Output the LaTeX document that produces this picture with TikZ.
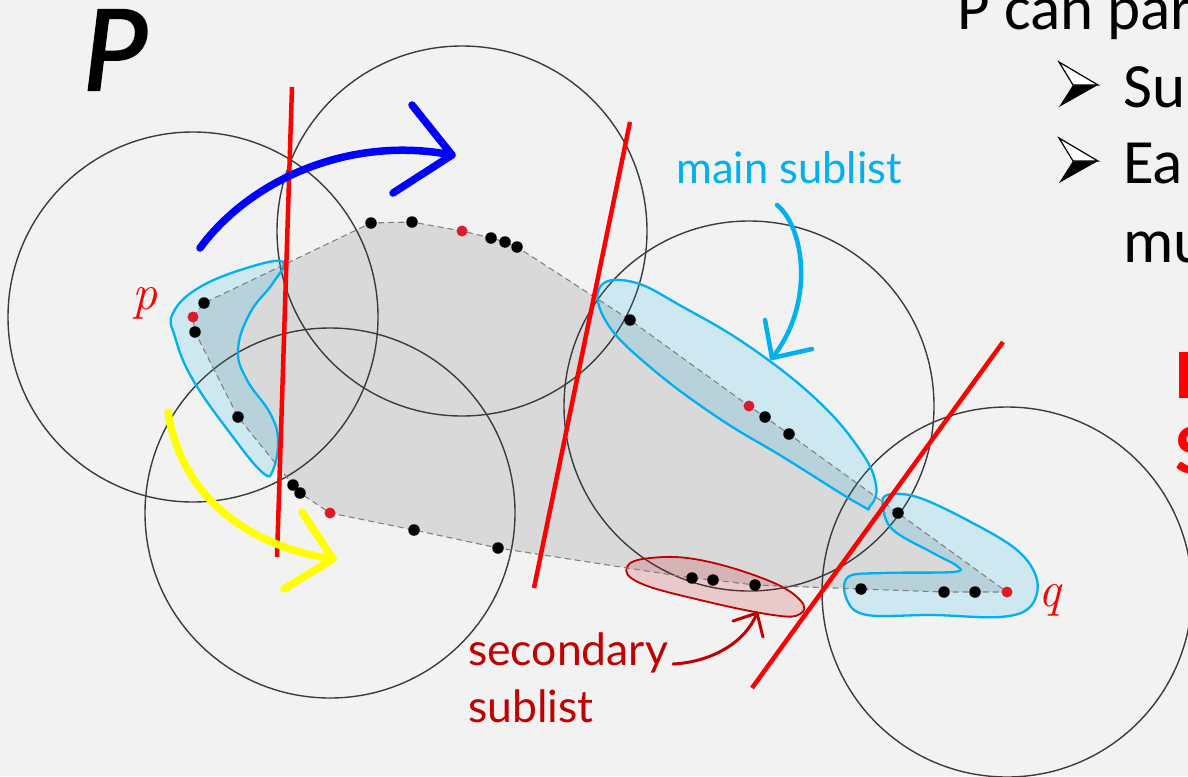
\documentclass[tikz,border=0pt]{standalone}
\usepackage{fontspec}
\newfontfamily\calfont{Carlito}
\newfontfamily\Pfont[ItalicFeatures={FakeBold=1.6}]{Carlito}
\newfontfamily\gillfont{Lato}
\newfontfamily\lmfont{Latin Modern Roman}
\definecolor{bg}{RGB}{242,242,242}
\definecolor{hull}{RGB}{217,217,217}
\definecolor{cyanL}{RGB}{0,176,240}
\definecolor{dred}{RGB}{192,0,0}
\definecolor{ptred}{RGB}{225,25,40}
\definecolor{circgray}{RGB}{60,60,60}
\definecolor{dashgray}{RGB}{130,130,130}
\definecolor{bluearr}{RGB}{0,0,255}
\definecolor{yelarr}{RGB}{255,255,0}
\tikzset{
  circ/.style={draw=circgray, line width=1.4pt},
  hullline/.style={draw=dashgray, line width=1.1pt, dash pattern=on 6pt off 4pt},
  blueblob/.style={draw=cyanL, line width=2.3pt, fill=cyanL, fill opacity=0.15},
  redblob/.style={draw=dred, line width=1.8pt, fill=dred, fill opacity=0.17},
  bdot/.style={circle, fill=black, inner sep=0pt, minimum size=11.5pt},
  rdot/.style={circle, fill=ptred, inner sep=0pt, minimum size=11pt},
  redline/.style={draw=red, line width=4.5pt},
  bigarrow/.style={line width=7.5pt, line cap=round, line join=round},
  lbl/.style={anchor=base west, inner sep=0pt},
}
\begin{document}
\begin{tikzpicture}[x=1pt,y=-1pt]
\useasboundingbox (0,0) rectangle (1188,776);
\clip (0,0) rectangle (1188,776);
\fill[bg] (0,0) rectangle (1188,776);

% hull vertices
\coordinate (h1) at (193,317);
\coordinate (h2) at (204,303);
\coordinate (h3) at (371,223);
\coordinate (h4) at (412,222);
\coordinate (h5) at (462,231);
\coordinate (h6) at (491,238);
\coordinate (h7) at (505,242);
\coordinate (h8) at (517,247);
\coordinate (h9) at (630,320);
\coordinate (h10) at (749,406);
\coordinate (h11) at (765,417);
\coordinate (h12) at (789,434);
\coordinate (h13) at (898,513);
\coordinate (h14) at (1007,592);
\coordinate (h15) at (975,592);
\coordinate (h16) at (944,592);
\coordinate (h17) at (861,589);
\coordinate (h18) at (755,585);
\coordinate (h19) at (713,580);
\coordinate (h20) at (692,578);
\coordinate (h21) at (498,548);
\coordinate (h22) at (414,530);
\coordinate (h23) at (330,513);
\coordinate (h24) at (300,493);
\coordinate (h25) at (293,485);
\coordinate (h26) at (238,417);
\coordinate (h27) at (195,332);

\fill[hull] (h1) -- (h2) -- (h3) -- (h4) -- (h5) -- (h6) -- (h7) -- (h8) -- (h9) -- (h10) -- (h11) -- (h12) -- (h13) -- (h14) -- (h15) -- (h16) -- (h17) -- (h18) -- (h19) -- (h20) -- (h21) -- (h22) -- (h23) -- (h24) -- (h25) -- (h26) -- (h27) -- cycle;

% circles
\foreach \c in {h1,h5,h23,h10,h14} {
  \draw[circ] (\c) circle[radius=185pt];
}

% sublist blobs
\path[blueblob] plot[smooth cycle, tension=0.7] coordinates {
  (283,262) (250,267) (200,287) (173,313) (175,337) (193,380) (233,437)
  (263,473) (273,470) (278,440) (270,413) (247,380) (238,350) (250,313) (273,283)};
\path[blueblob] plot[smooth cycle, tension=0.7] coordinates {
  (600,287) (633,282) (683,307) (750,347) (817,400) (860,450) (876,485)
  (870,506) (857,503) (783,457) (717,417) (650,367) (607,323)};
\path[blueblob] plot[smooth cycle, tension=0.6] coordinates {
  (887,495) (917,497) (967,520) (1017,550) (1037,580) (1030,607) (1000,617)
  (933,615) (867,615) (847,600) (848,577) (883,573) (953,572) (957,566)
  (933,553) (893,530) (883,507)};
\path[redblob] plot[smooth cycle, tension=0.7] coordinates {
  (627,567) (650,558) (700,560) (767,580) (800,600) (800,614) (773,615)
  (700,600) (640,583)};

% dashed hull outline
\draw[hullline] (h1) -- (h2) -- (h3) -- (h4) -- (h5) -- (h6) -- (h7) -- (h8) -- (h9) -- (h10) -- (h11) -- (h12) -- (h13) -- (h14) -- (h15) -- (h16) -- (h17) -- (h18) -- (h19) -- (h20) -- (h21) -- (h22) -- (h23) -- (h24) -- (h25) -- (h26) -- (h27) -- cycle;

% points
\foreach \c in {h2,h3,h4,h6,h7,h8,h9,h11,h12,h13,h15,h16,h17,h18,h19,h20,h21,h22,h24,h25,h26,h27} {
  \node[bdot] (d\c) at (\c) {};
}
\foreach \c in {h1,h5,h10,h14,h23} {
  \node[rdot] (d\c) at (\c) {};
}

% red separating lines
\coordinate (r1a) at (292,87);  \coordinate (r1b) at (277,557);
\coordinate (r2a) at (630,122); \coordinate (r2b) at (534,588);
\coordinate (r3a) at (1003,342);\coordinate (r3b) at (752,688);
\draw[redline] (r1a) -- (r1b);
\draw[redline] (r2a) -- (r2b);
\draw[redline] (r3a) -- (r3b);

% blue arrow
\coordinate (ba0) at (200,248); \coordinate (ba1) at (452,155);
\coordinate (baU) at (412,105); \coordinate (baL) at (393,193);
\draw[bigarrow, bluearr] (ba0) .. controls (250,180) and (350,135) .. (ba1);
\draw[bigarrow, bluearr] (baU) -- (ba1) -- (baL);

% yellow arrow
\coordinate (ya0) at (168,412); \coordinate (ya1) at (333,559);
\coordinate (yaU) at (302,512); \coordinate (yaL) at (284,589);
\draw[bigarrow, yelarr] (ya0) .. controls (180,490) and (240,545) .. (ya1);
\draw[bigarrow, yelarr] (yaU) -- (ya1) -- (yaL);

% cyan arrow
\coordinate (ca0) at (777,205); \coordinate (ca1) at (772,358);
\coordinate (caU) at (765,320); \coordinate (caL) at (812,349);
\draw[cyanL, line width=4.5pt, line cap=round, line join=round] (ca0) .. controls (805,228) and (815,305) .. (ca1);
\draw[cyanL, line width=4.5pt, line cap=round, line join=round] (caU) -- (ca1) -- (caL);

% secondary arrow
\coordinate (sa0) at (673,664); \coordinate (sa1) at (757,613);
\coordinate (saU) at (733,621); \coordinate (saL) at (763,637);
\draw[dred, line width=3pt, line cap=round, line join=round] (sa0) .. controls (712,662) and (746,642) .. (sa1);
\draw[dred, line width=3pt, line cap=round, line join=round] (saU) -- (sa1) -- (saL);

% labels
\node[lbl] (Pbig) at (82,90) {\Pfont\itshape\fontsize{125}{125}\selectfont P};
\node[lbl, text=red] (plbl) at (132,309) {\lmfont\itshape\fontsize{50}{50}\selectfont p};
\node[lbl, text=red] (qlbl) at (1038,606) {\lmfont\itshape\fontsize{50}{50}\selectfont q};
\node[lbl, text=cyanL] (mainlbl) at (676,183) {\gillfont\fontsize{43.5}{43.5}\selectfont main sublist};
\node[lbl, text=dred] (seclbl1) at (468,665) {\gillfont\fontsize{44.5}{44.5}\selectfont secondary};
\node[lbl, text=dred] (seclbl2) at (468,722) {\gillfont\fontsize{44.5}{44.5}\selectfont sublist};

% right-hand text (cut by the border)
\node[lbl] (t1) at (957,30) {\calfont\fontsize{63}{63}\selectfont P can par};
\node[lbl] (t2) at (1123,107) {\calfont\fontsize{63}{63}\selectfont Su};
\node[lbl] (t3) at (1123,183) {\calfont\fontsize{63}{63}\selectfont Ea};
\node[lbl] (t4) at (1123,262) {\calfont\fontsize{63}{63}\selectfont mu};
\node[lbl, text=red] (t5) at (1175,398) {\calfont\bfseries\fontsize{71}{71}\selectfont D};
\node[lbl, text=red] (t6) at (1175,473) {\calfont\bfseries\fontsize{71}{71}\selectfont S};

% bullets
\foreach \dy/\nm in {0/b1,76/b2} {
  \coordinate (\nm t) at (1098,85+\dy);
  \coordinate (\nm u) at (1059,62+\dy);
  \coordinate (\nm n) at (1073,85+\dy);
  \coordinate (\nm l) at (1059,107+\dy);
  \fill[black] (\nm n) -- (\nm t) -- (\nm l) -- cycle;
  \draw[black, line width=1.2pt, fill=white, line join=miter] (\nm u) -- (\nm t) -- (\nm n) -- cycle;
}
\end{tikzpicture}
\end{document}
